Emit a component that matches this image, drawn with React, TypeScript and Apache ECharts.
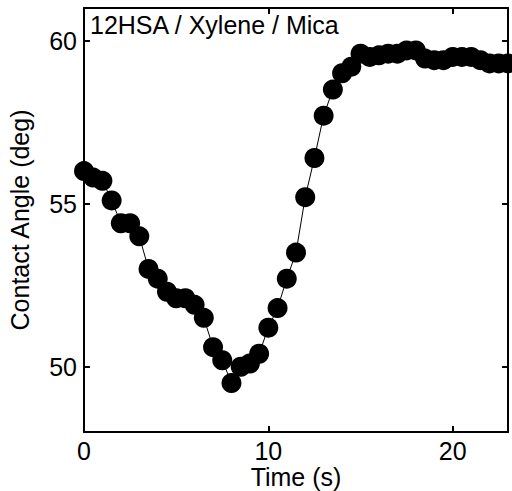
import React, { useEffect, useRef } from "react";
import * as echarts from "echarts";

const times = [
  0, 0.5, 1, 1.5, 2, 2.5, 3, 3.5, 4, 4.5, 5, 5.5, 6, 6.5, 7, 7.5, 8, 8.5, 9, 9.5,
  10, 10.5, 11, 11.5, 12, 12.5, 13, 13.5, 14, 14.5, 15, 15.5, 16, 16.5, 17, 17.5,
  18, 18.5, 19, 19.5, 20, 20.5, 21, 21.5, 22, 22.5, 23,
];
const angles = [
  56.0, 55.8, 55.7, 55.1, 54.4, 54.4, 54.0, 53.0, 52.7, 52.3, 52.1, 52.1, 51.9,
  51.5, 50.6, 50.2, 49.5, 50.0, 50.1, 50.4, 51.2, 51.8, 52.7, 53.5, 55.2, 56.4,
  57.7, 58.5, 59.0, 59.2, 59.6, 59.5, 59.55, 59.6, 59.6, 59.7, 59.7, 59.45, 59.4,
  59.4, 59.5, 59.5, 59.5, 59.4, 59.3, 59.3, 59.3,
];
const xTickValues = [0, 10, 20];
const yTickValues = [50, 55, 60];
const xRange = [0, 23];
const yRange = [48, 61];
const xTitle = "Time (s)";
const yTitle = "Contact Angle (deg)";
const label = "12HSA / Xylene / Mica";

const FONT = "Liberation Sans, Arial, sans-serif";

export default function App() {
  const ref = useRef<HTMLDivElement>(null);
  useEffect(() => {
    if (!ref.current) return;
    const chart = echarts.init(ref.current, null, { renderer: "svg" });
    const axisLine = { show: true, onZero: false, lineStyle: { color: "#000", width: 2 } };
    const tick = (vals: number[]) => ({
      show: true,
      inside: true,
      length: 6,
      customValues: vals,
      lineStyle: { color: "#000", width: 2 },
    });
    const labelStyle = { color: "#000", fontSize: 25, fontFamily: FONT };
    chart.setOption({
      animation: false,
      backgroundColor: "#fff",
      grid: {
        left: 84,
        top: 8,
        width: 424,
        height: 424,
        containLabel: false,
        outerBoundsMode: "none",
      },
      xAxis: [
        {
          type: "value",
          min: xRange[0],
          max: xRange[1],
          axisLine,
          axisTick: tick(xTickValues),
          splitLine: { show: false },
          axisLabel: { ...labelStyle, margin: 6, customValues: xTickValues },
          name: xTitle,
          nameLocation: "middle",
          nameGap: 32,
          nameMoveOverlap: false,
          nameTextStyle: { ...labelStyle, lineHeight: 25 },
        },
        {
          type: "value",
          position: "top",
          min: xRange[0],
          max: xRange[1],
          axisLine,
          axisTick: tick(xTickValues),
          splitLine: { show: false },
          axisLabel: { show: false },
        },
      ],
      yAxis: [
        {
          type: "value",
          min: yRange[0],
          max: yRange[1],
          axisLine,
          axisTick: tick(yTickValues),
          splitLine: { show: false },
          axisLabel: { ...labelStyle, margin: 7, customValues: yTickValues },
          name: yTitle,
          nameLocation: "middle",
          nameGap: 52,
          nameTextStyle: labelStyle,
        },
        {
          type: "value",
          position: "right",
          min: yRange[0],
          max: yRange[1],
          axisLine,
          axisTick: tick(yTickValues),
          splitLine: { show: false },
          axisLabel: { show: false },
        },
      ],
      graphic: [
        {
          type: "text",
          left: 90,
          top: 12,
          style: { text: label, fill: "#000", fontSize: 25, fontFamily: FONT },
        },
      ],
      series: [
        {
          type: "line",
          data: times.map((t, i) => [t, angles[i]]),
          symbol: "circle",
          symbolSize: 20,
          showAllSymbol: true,
          clip: true,
          lineStyle: { color: "#000", width: 1 },
          itemStyle: { color: "#000" },
        },
      ],
    });
    return () => chart.dispose();
  }, []);
  return (
    <div
      ref={ref}
      style={{ position: "fixed", left: 0, top: 0, width: 512, height: 491 }}
    />
  );
}
